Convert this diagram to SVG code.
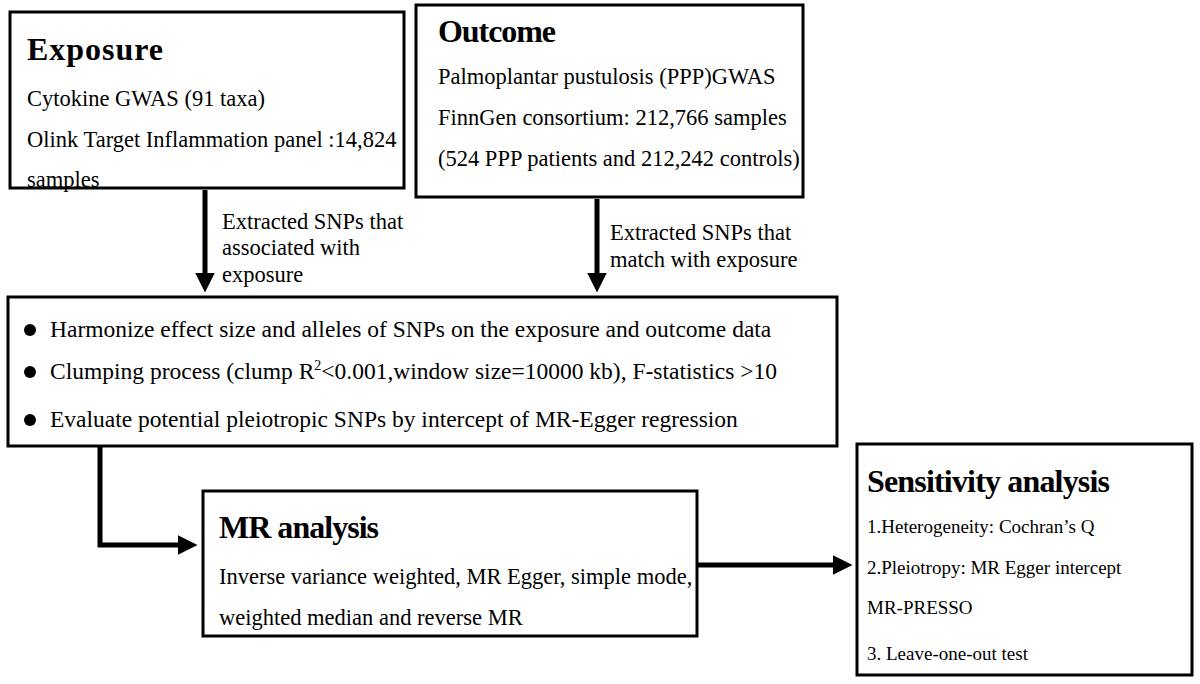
<svg xmlns="http://www.w3.org/2000/svg" width="1200" height="684" viewBox="0 0 1200 684">
<style>
text{font-family:"Liberation Serif","Times New Roman",serif;fill:#000}
.t{font-size:32px;font-weight:bold}
.b{font-size:22.5px}
.h{font-size:23.5px}
.s{font-size:19px}
.box{fill:#fff;stroke:#000;stroke-width:3}
.c{stroke:#000;stroke-width:5;fill:none}
</style>
<defs><marker id="a" markerWidth="4" markerHeight="4" refX="2.5" refY="2" orient="auto" markerUnits="strokeWidth"><path d="M0,0L4,2L0,4Z" fill="#000"/></marker></defs>
<rect width="1200" height="684" fill="#fff"/>
<g id="exposure"><rect class="box" x="10" y="12" width="394" height="176"/>
<text class="t" x="27" y="60" textLength="136">Exposure</text>
<text class="b" x="27" y="106">Cytokine GWAS (91 taxa)</text>
<text class="b" x="27" y="147">Olink Target Inflammation panel :14,824</text>
<text class="b" x="27" y="187">samples</text></g>
<g id="outcome"><rect class="box" x="416" y="5" width="387" height="192"/>
<text class="t" x="438" y="42" textLength="118">Outcome</text>
<text class="b" x="438" y="84">Palmoplantar pustulosis (PPP)GWAS</text>
<text class="b" x="438" y="125">FinnGen consortium: 212,766 samples</text>
<text class="b" x="438" y="166">(524 PPP patients and 212,242 controls)</text></g>
<g id="harmonize"><rect class="box" x="8" y="297" width="829" height="149"/>
<circle cx="30" cy="330" r="6"/><circle cx="30" cy="372" r="6"/><circle cx="30" cy="420" r="6"/>
<text class="h" x="50" y="337">Harmonize effect size and alleles of SNPs on the exposure and outcome data</text>
<text class="h" x="50" y="379">Clumping process (clump R<tspan font-size="14" dy="-9">2</tspan><tspan dy="9">&lt;0.001,window size=10000 kb), F-statistics &gt;10</tspan></text>
<text class="h" x="50" y="427">Evaluate potential pleiotropic SNPs by intercept of MR-Egger regression</text></g>
<g id="mr"><rect class="box" x="203" y="491" width="494" height="145"/>
<text class="t" x="219" y="538" textLength="160">MR analysis</text>
<text class="b" x="219" y="584">Inverse variance weighted, MR Egger, simple mode,</text>
<text class="b" x="219" y="625">weighted median and reverse MR</text></g>
<g id="sensitivity"><rect class="box" x="857" y="444" width="335" height="231"/>
<text class="t" x="867" y="492" textLength="243">Sensitivity analysis</text>
<text class="s" x="867" y="533">1.Heterogeneity: Cochran’s Q</text>
<text class="s" x="867" y="574">2.Pleiotropy: MR Egger intercept</text>
<text class="s" x="867" y="614">MR-PRESSO</text>
<text class="s" x="867" y="660">3. Leave-one-out test</text></g>
<g id="connectors">
<path class="c" d="M205,190V285" marker-end="url(#a)"/>
<path class="c" d="M597,199V285" marker-end="url(#a)"/>
<path class="c" d="M100,447V545H190" marker-end="url(#a)"/>
<path class="c" d="M698,565H845" marker-end="url(#a)"/>
<text class="b" x="222" y="229">Extracted SNPs that</text>
<text class="b" x="222" y="255">associated with</text>
<text class="b" x="222" y="282">exposure</text>
<text class="b" x="610" y="240">Extracted SNPs that</text>
<text class="b" x="610" y="267">match with exposure</text>
</g>
</svg>
